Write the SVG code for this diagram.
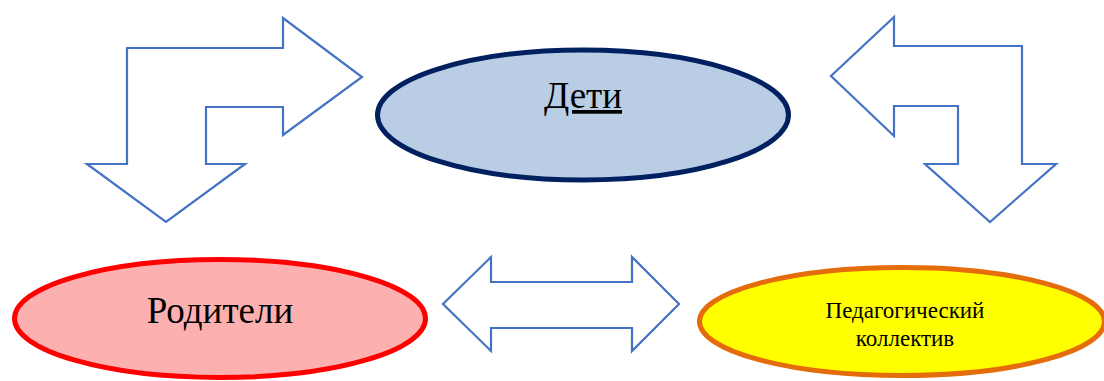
<svg xmlns="http://www.w3.org/2000/svg" width="1104" height="381" viewBox="0 0 1104 381">
<style>
.arr{fill:#ffffff;stroke:#4472C4;stroke-width:2.2;stroke-linejoin:miter}
.lbl{font-family:"Liberation Serif","DejaVu Serif",serif;fill:#000000;text-anchor:middle}
</style>
<rect width="1104" height="381" fill="#ffffff"/>
<g id="connectors">
<polygon class="arr" points="127,48 283,48 283,18 362,77 283,135 283,107 206,107 206,164 245,164 166,222 87,164 127,164"/>
<polygon class="arr" points="894,17 894,46 1022,46 1022,164 1056,164 990,222 925,164 958,164 958,106 894,106 894,136 831,76"/>
<polygon class="arr" points="443,304 491,257 491,282 632,282 632,257 679,304 632,351 632,328 491,328 491,351"/>
</g>
<g id="node-deti">
<ellipse cx="583" cy="115" rx="205.5" ry="65" fill="#B9CDE5" stroke="#002060" stroke-width="5"/>
<text class="lbl" x="583" y="108" font-family="Liberation Serif, serif" font-size="37" text-decoration="underline">Дети</text>
</g>
<g id="node-roditeli">
<ellipse cx="220" cy="318.5" rx="205.5" ry="59" fill="#FDB0B0" stroke="#FF0000" stroke-width="5"/>
<text class="lbl" x="220" y="323" font-family="Liberation Serif, serif" font-size="37">Родители</text>
</g>
<g id="node-pedagog">
<ellipse cx="902" cy="321.5" rx="202.5" ry="54" fill="#FFFF00" stroke="#E46C0A" stroke-width="5"/>
<text class="lbl" x="905" y="318" font-size="23">Педагогический</text>
<text class="lbl" x="905" y="346" font-size="23">коллектив</text>
</g>
</svg>
